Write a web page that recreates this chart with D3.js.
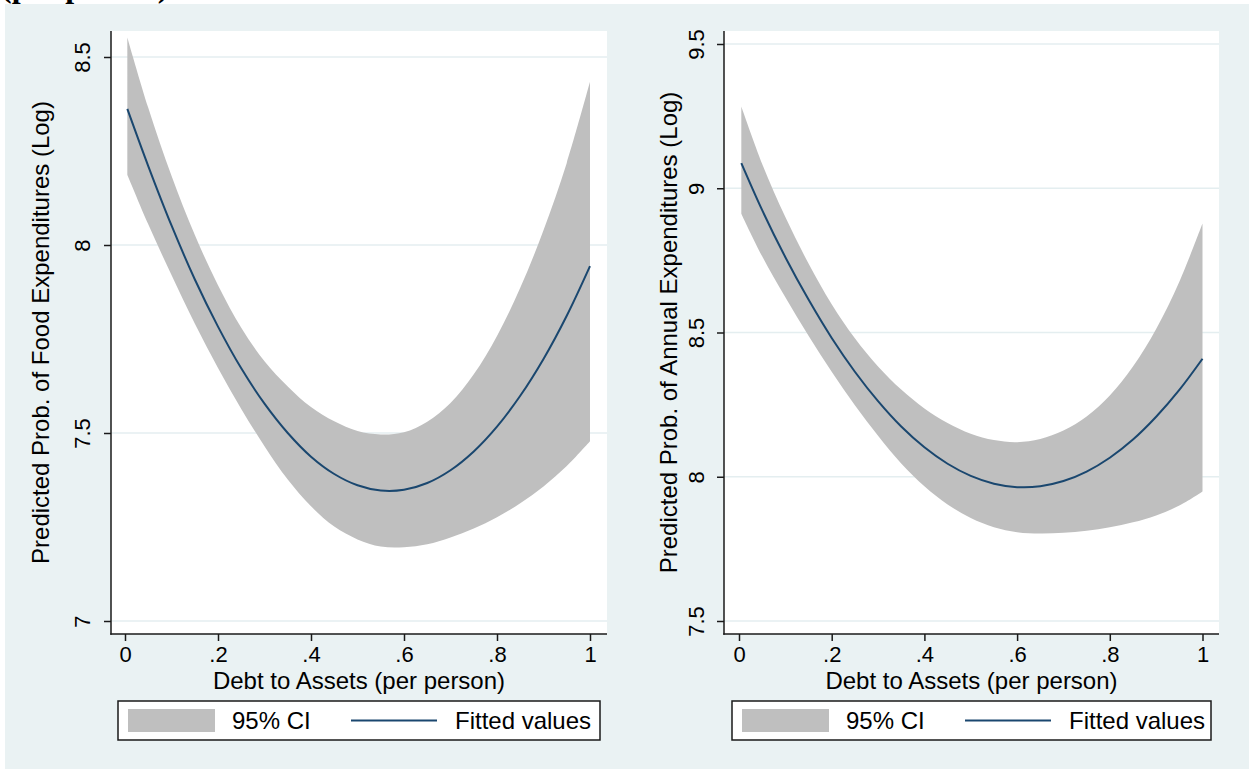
<!DOCTYPE html>
<html>
<head>
<meta charset="utf-8">
<script src="https://cdn.jsdelivr.net/npm/d3@7"></script>
<style>
  body { margin: 0; background: #ffffff; }
  svg { display: block; }
  text { font-family: Arial, "Liberation Sans", Helvetica, sans-serif; fill: #000; }
</style>
</head>
<body>
<svg id="chart" width="1249" height="769"></svg>
<script>
// ---------------- data ----------------
const xValues = [0.005, 0.05, 0.1, 0.15, 0.2, 0.25, 0.3, 0.35, 0.4, 0.45, 0.5,
                 0.55, 0.6, 0.65, 0.7, 0.75, 0.8, 0.85, 0.9, 0.95, 1];

const foodFit   = [8.362, 8.210, 8.052, 7.909, 7.783, 7.672, 7.578, 7.500, 7.437, 7.391, 7.361,
                   7.347, 7.349, 7.367, 7.401, 7.451, 7.517, 7.599, 7.697, 7.812, 7.944];
const foodUpper = [8.552, 8.365, 8.184, 8.027, 7.893, 7.780, 7.691, 7.624, 7.569, 7.531, 7.505,
                   7.496, 7.502, 7.530, 7.580, 7.656, 7.758, 7.886, 8.039, 8.218, 8.434];
const foodLower = [8.187, 8.055, 7.920, 7.791, 7.673, 7.564, 7.465, 7.376, 7.305, 7.251, 7.217,
                   7.198, 7.196, 7.204, 7.222, 7.246, 7.276, 7.313, 7.358, 7.412, 7.478];

const annualFit   = [9.087, 8.924, 8.761, 8.614, 8.481, 8.364, 8.262, 8.174, 8.102, 8.045, 8.003,
                     7.976, 7.964, 7.967, 7.985, 8.018, 8.066, 8.129, 8.208, 8.301, 8.409];
const annualUpper = [9.283, 9.084, 8.900, 8.739, 8.598, 8.480, 8.382, 8.302, 8.237, 8.186, 8.149,
                     8.127, 8.120, 8.131, 8.160, 8.209, 8.282, 8.382, 8.512, 8.676, 8.878];
const annualLower = [8.912, 8.764, 8.622, 8.489, 8.364, 8.248, 8.142, 8.046, 7.967, 7.904, 7.857,
                     7.825, 7.808, 7.803, 7.806, 7.813, 7.825, 7.842, 7.866, 7.900, 7.949];

const xTickValues = [0, 0.2, 0.4, 0.6, 0.8, 1];
const xTickLabels = ["0", ".2", ".4", ".6", ".8", "1"];

const foodYTicks = [7, 7.5, 8, 8.5];
const foodYTickLabels = ["7", "7.5", "8", "8.5"];
const annualYTicks = [7.5, 8, 8.5, 9, 9.5];
const annualYTickLabels = ["7.5", "8", "8.5", "9", "9.5"];

const xTitle = "Debt to Assets (per person)";
const foodYTitle = "Predicted Prob. of Food Expenditures (Log)";
const annualYTitle = "Predicted Prob. of Annual Expenditures (Log)";
const legendLabels = ["95% CI", "Fitted values"];
const headerText = "(per person)";

// ---------------- styles ----------------
const BG = "#eaf2f3";
const CI_FILL = "#bfbfbf";
const FIT_COLOR = "#1a476f";
const GRID = "#e4eef0";
const AXIS = "#1a1a1a";
const FS = 24;      // titles & legend
const TFS = 22;     // tick labels

const svg = d3.select("#chart");
svg.append("rect").attr("width", 1249).attr("height", 769).attr("fill", "#fff");

// header text of the surrounding document, clipped by the graph region as in the reference
svg.append("text")
  .attr("x", 1).attr("y", -3)
  .style("font-family", "'Liberation Serif', 'Times New Roman', serif")
  .style("font-weight", "bold").style("font-size", "32px")
  .text(headerText);

// graph region background
svg.append("rect").attr("x", 5).attr("y", 4).attr("width", 1244).attr("height", 765).attr("fill", BG);

const panels = [
  { fit: foodFit, upper: foodUpper, lower: foodLower,
    yTicks: foodYTicks, yLabels: foodYTickLabels, yTitle: foodYTitle,
    yDom: [7, 8.5], yRange: [621, 57],
    xRange: [125, 590],
    plot: { x0: 111, x1: 607, y0: 31, y1: 634 },
    tickBase: 21, titleBase: 62,
    legend: { x: 118, y: 701, w: 482, h: 39 } },
  { fit: annualFit, upper: annualUpper, lower: annualLower,
    yTicks: annualYTicks, yLabels: annualYTickLabels, yTitle: annualYTitle,
    yDom: [7.5, 9.5], yRange: [621, 44],
    xRange: [739, 1202.5],
    plot: { x0: 724, x1: 1219, y0: 31, y1: 634 },
    tickBase: 20, titleBase: 47,
    legend: { x: 732, y: 701, w: 479, h: 39 } }
];

panels.forEach(p => {
  const x = d3.scaleLinear().domain([0, 1]).range(p.xRange);
  const y = d3.scaleLinear().domain(p.yDom).range(p.yRange);
  const P = p.plot;

  svg.append("rect").attr("x", P.x0).attr("y", P.y0)
    .attr("width", P.x1 - P.x0).attr("height", P.y1 - P.y0).attr("fill", "#fff");

  // gridlines
  svg.append("g").selectAll("line").data(p.yTicks).join("line")
    .attr("x1", P.x0).attr("x2", P.x1)
    .attr("y1", d => y(d)).attr("y2", d => y(d))
    .attr("stroke", GRID).attr("stroke-width", 1.6);

  const rows = xValues.map((xv, i) => ({ x: xv, f: p.fit[i], u: p.upper[i], l: p.lower[i] }));
  const curve = d3.curveCatmullRom.alpha(0.5);

  svg.append("path").datum(rows)
    .attr("fill", CI_FILL)
    .attr("d", d3.area().curve(curve)
      .x(d => x(d.x)).y0(d => y(d.l)).y1(d => y(d.u)));

  svg.append("path").datum(rows)
    .attr("fill", "none").attr("stroke", FIT_COLOR).attr("stroke-width", 2)
    .attr("d", d3.line().curve(curve).x(d => x(d.x)).y(d => y(d.f)));

  // y axis
  const gy = svg.append("g").attr("transform", `translate(${P.x0},0)`)
    .call(d3.axisLeft(y).tickValues(p.yTicks)
      .tickFormat((d, i) => p.yLabels[i]).tickSize(7).tickSizeOuter(0));
  gy.select(".domain").remove();
  gy.selectAll(".tick line").attr("stroke", AXIS).attr("stroke-width", 1.5);
  gy.selectAll(".tick text")
    .attr("transform", "rotate(-90)")
    .attr("x", 0).attr("y", -p.tickBase).attr("dy", 0)
    .attr("text-anchor", "middle")
    .style("font-size", TFS + "px").style("font-family", "Arial, 'Liberation Sans', sans-serif");
  svg.append("line").attr("x1", P.x0).attr("x2", P.x0).attr("y1", P.y0).attr("y2", P.y1 + 0.75)
    .attr("stroke", AXIS).attr("stroke-width", 1.5);

  // x axis
  const gx = svg.append("g").attr("transform", `translate(0,${P.y1})`)
    .call(d3.axisBottom(x).tickValues(xTickValues)
      .tickFormat((d, i) => xTickLabels[i]).tickSize(7).tickSizeOuter(0).tickPadding(5));
  gx.select(".domain").remove();
  gx.selectAll(".tick line").attr("stroke", AXIS).attr("stroke-width", 1.5);
  gx.selectAll(".tick text")
    .style("font-size", TFS + "px").style("font-family", "Arial, 'Liberation Sans', sans-serif");
  svg.append("line").attr("x1", P.x0 - 0.75).attr("x2", P.x1).attr("y1", P.y1).attr("y2", P.y1)
    .attr("stroke", AXIS).attr("stroke-width", 1.5);

  // axis titles
  svg.append("text")
    .attr("x", (P.x0 + P.x1) / 2).attr("y", 689)
    .attr("text-anchor", "middle").style("font-size", FS + "px")
    .text(xTitle);
  svg.append("text")
    .attr("transform", `translate(${P.x0 - p.titleBase},${(P.y0 + P.y1) / 2}) rotate(-90)`)
    .attr("text-anchor", "middle").style("font-size", FS + "px")
    .text(p.yTitle);

  // legend
  const L = p.legend;
  const lg = svg.append("g").attr("transform", `translate(${L.x},${L.y})`);
  lg.append("rect").attr("width", L.w).attr("height", L.h)
    .attr("fill", "#fff").attr("stroke", AXIS).attr("stroke-width", 1.5);
  lg.append("rect").attr("x", 10).attr("y", 8).attr("width", 87).attr("height", 23).attr("fill", CI_FILL);
  lg.append("text").attr("x", 114).attr("y", 28).style("font-size", FS + "px").text(legendLabels[0]);
  lg.append("line").attr("x1", 233).attr("x2", 319).attr("y1", 19.5).attr("y2", 19.5)
    .attr("stroke", FIT_COLOR).attr("stroke-width", 2);
  lg.append("text").attr("x", 337).attr("y", 28).style("font-size", FS + "px").text(legendLabels[1]);
});
</script>
</body>
</html>
